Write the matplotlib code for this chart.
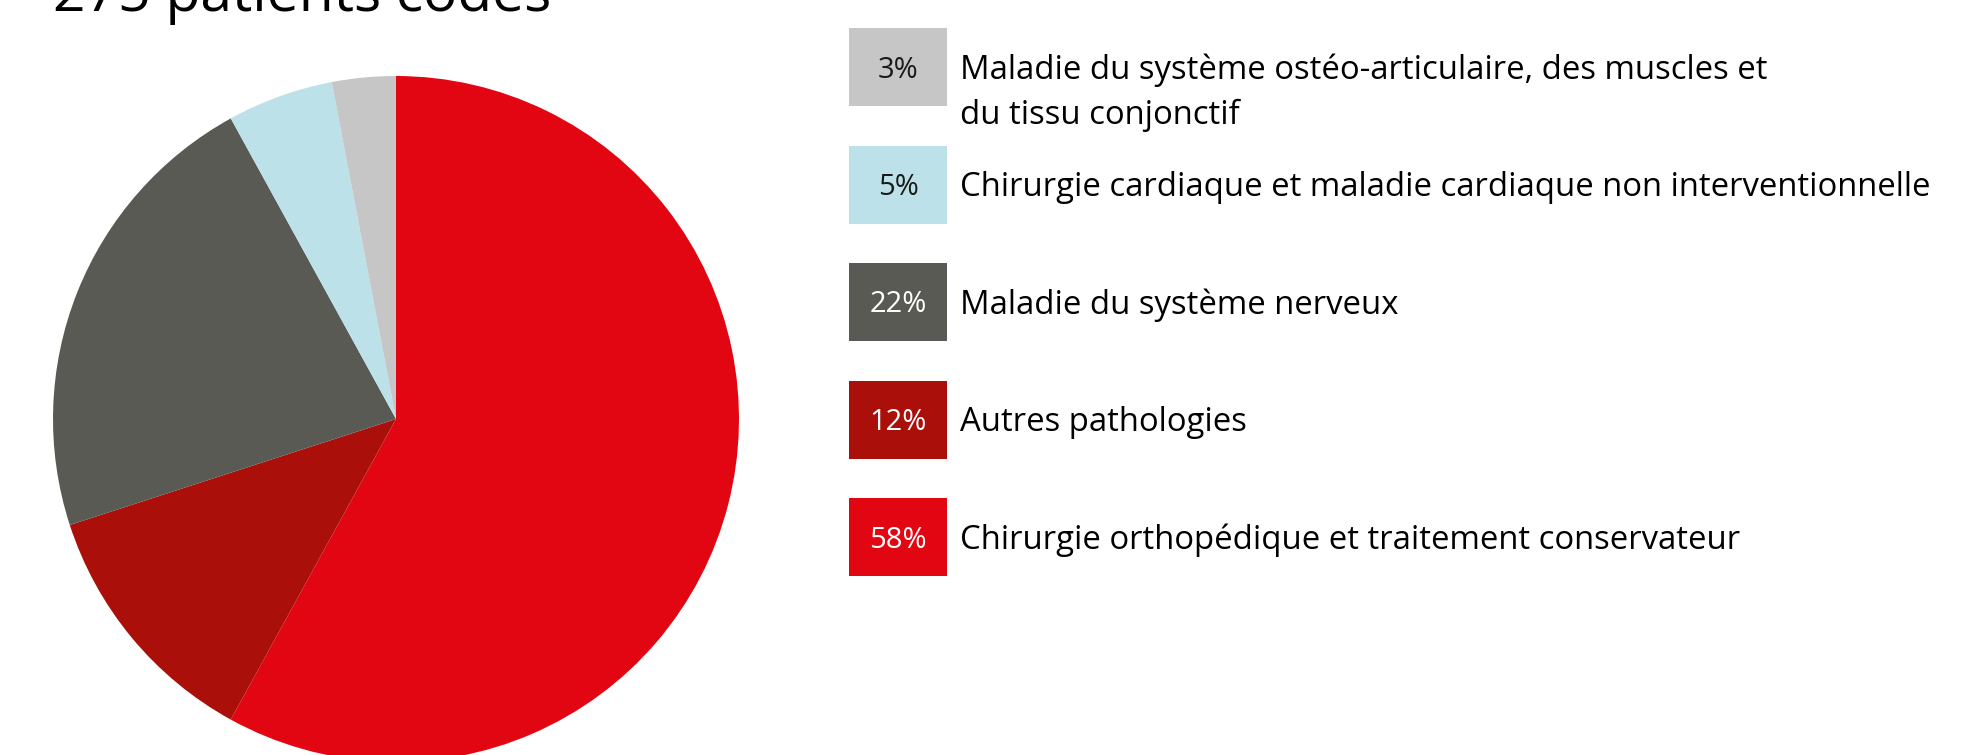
import matplotlib
matplotlib.use("Agg")
import matplotlib.pyplot as plt
from matplotlib.patches import Rectangle

plt.rcParams["font.family"] = ["Open Sans", "DejaVu Sans"]

# legend order, top to bottom
categories = [
    "Maladie du système ostéo-articulaire, des muscles et\ndu tissu conjonctif",
    "Chirurgie cardiaque et maladie cardiaque non interventionnelle",
    "Maladie du système nerveux",
    "Autres pathologies",
    "Chirurgie orthopédique et traitement conservateur",
]
shares = [3, 5, 22, 12, 58]
colors = ["#c6c6c6", "#bde1e9", "#5a5a55", "#aa0f0a", "#e20613"]
pct_text_colors = ["#1a1a1a", "#1a1a1a", "white", "white", "white"]
title = "275 patients codés"

W, H = 1978, 755
fig = plt.figure(figsize=(W / 100, H / 100), dpi=100)

# pie: centre (396, 419) px from top-left, radius 343 px
cx, cy, r = 396, 419, 343
ax = fig.add_axes([(cx - r) / W, (H - cy - r) / H, 2 * r / W, 2 * r / H])
ax.pie(shares[::-1], colors=colors[::-1], startangle=90, counterclock=False,
       wedgeprops=dict(linewidth=0))
ax.set_xlim(-1, 1)
ax.set_ylim(-1, 1)
ax.axis("off")

# overlay in pixel coordinates for title and legend
ov = fig.add_axes([0, 0, 1, 1], facecolor="none")
ov.set_xlim(0, W)
ov.set_ylim(H, 0)
ov.axis("off")

ov.text(53, 11, title, fontsize=41, ha="left", va="baseline", color="black")

box_x, box_w, box_h = 849, 98, 78
line_gap = 45
for i, (cat, val, col, tcol) in enumerate(zip(categories, shares, colors, pct_text_colors)):
    y0 = 28 + i * 117.5
    ov.add_patch(Rectangle((box_x, y0), box_w, box_h, facecolor=col, edgecolor="none"))
    yc = y0 + box_h / 2 + 3
    ov.text(box_x + box_w / 2, yc, f"{val}%", fontsize=21, color=tcol,
            ha="center", va="center")
    for k, line in enumerate(cat.split("\n")):
        ov.text(960, yc + k * line_gap, line, fontsize=23.7, color="black",
                ha="left", va="center")

fig.savefig("out.png", dpi=100)
